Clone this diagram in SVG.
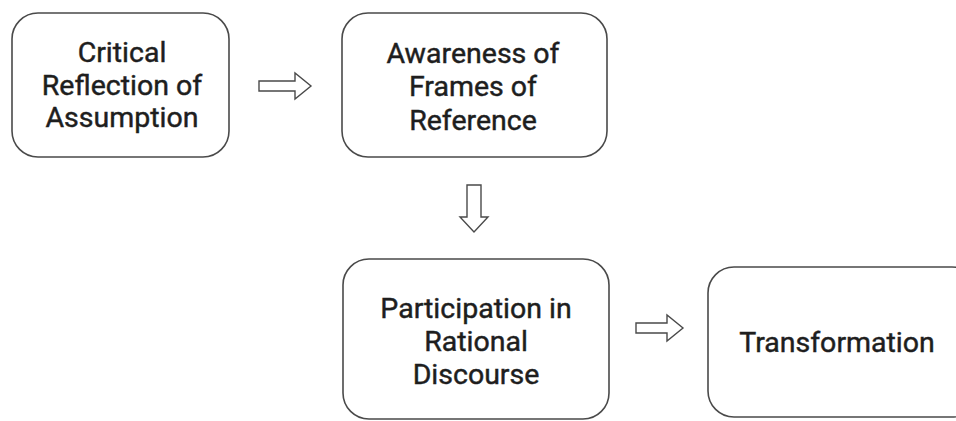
<svg xmlns="http://www.w3.org/2000/svg" width="956" height="421" viewBox="0 0 956 421">
  <style>
    .box { fill: #ffffff; stroke: #4a4a4a; stroke-width: 1.6; }
    .label { font-family: Roboto, "Liberation Sans", sans-serif; font-size: 28.5px; fill: #1e1e1e; stroke: #1e1e1e; stroke-width: 0.45; text-anchor: middle; }
    .arrow { fill: #ffffff; stroke: #4a4a4a; stroke-width: 1.4; stroke-linejoin: miter; }
  </style>
  <rect width="956" height="421" fill="#ffffff"/>

  <g id="critical-reflection">
    <rect class="box" x="12" y="13" width="217" height="144" rx="26"/>
    <text class="label" x="122" y="62">Critical</text>
    <text class="label" x="122" y="95">Reflection of</text>
    <text class="label" x="122" y="127">Assumption</text>
  </g>

  <g id="awareness">
    <rect class="box" x="342" y="13" width="265" height="144" rx="26"/>
    <text class="label" x="473" y="63">Awareness of</text>
    <text class="label" x="473" y="96">Frames of</text>
    <text class="label" x="473" y="130">Reference</text>
  </g>

  <g id="participation">
    <rect class="box" x="343" y="259" width="266" height="160" rx="26"/>
    <text class="label" x="476" y="318">Participation in</text>
    <text class="label" x="476" y="351">Rational</text>
    <text class="label" x="476" y="384">Discourse</text>
  </g>

  <g id="transformation">
    <rect class="box" x="708" y="267" width="270" height="150" rx="26"/>
    <text class="label" x="837" y="352">Transformation</text>
  </g>

  <g id="connectors">
    <!-- block arrow: critical reflection to awareness -->
    <path class="arrow" d="M259,81 H295 V73 L311,86 L295,99 V91 H259 Z"/>
    <!-- block arrow: awareness down to participation -->
    <path class="arrow" d="M467,185 H481 V217 H488 L474,232 L460,217 H467 Z"/>
    <!-- block arrow: participation to transformation -->
    <path class="arrow" d="M636,323 H667 V315 L683,328 L667,341 V333 H636 Z"/>
  </g>
</svg>
